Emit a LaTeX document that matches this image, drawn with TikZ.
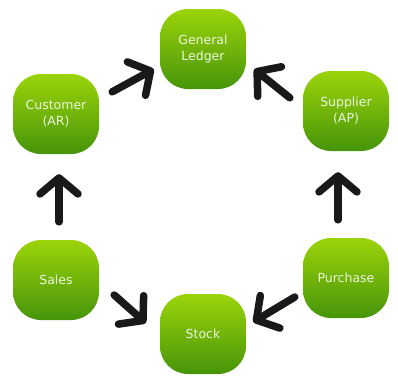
\documentclass[tikz,border=0pt]{standalone}
\usepackage{fontspec}
\setmainfont{DejaVu Sans}
\usetikzlibrary{arrows.meta}
\definecolor{boxtop}{RGB}{156,212,10}
\definecolor{boxbot}{RGB}{70,148,10}
\definecolor{boxtext}{RGB}{236,246,220}
\begin{document}
\begin{tikzpicture}[x=1pt,y=-1pt,
  box/.style={rectangle,rounded corners=28pt,minimum width=86pt,minimum height=80pt,
    top color=boxtop,bottom color=boxbot,draw=none,text=boxtext,align=center,
    font=\fontsize{12.5}{16}\selectfont},
  arr/.style={line width=7.5pt,line cap=round,black!90,
    -{Straight Barb[length=16pt,width=38pt,line width=7.5pt,round]}}]
\useasboundingbox (0,0) rectangle (398,380);
\node [box] (gl) at (203,49) {General\\Ledger};
\node [box] (cust) at (56,114) {Customer\\(AR)};
\node [box] (sup) at (346,111) {Supplier\\(AP)};
\node [box] (sales) at (56,280) {Sales};
\node [box] (pur) at (346,278) {Purchase};
\node [box] (stock) at (203,334) {Stock};
\draw [arr] ([shift={(13,18)}]cust.north east) -- ([shift={(-6,-20)}]gl.south west);
\draw [arr] ([shift={(-13,27)}]sup.north west) -- ([shift={(8,-20)}]gl.south east);
\draw [arr] ([shift={(3,-18)}]sales.north) -- ([shift={(3,20)}]cust.south);
\draw [arr] ([shift={(-8,-18)}]pur.north) -- ([shift={(-8,21)}]sup.south);
\draw [arr] ([shift={(15,15)}]sales.east) -- ([shift={(-14,-11)}]stock.west);
\draw [arr] ([shift={(-8,19)}]pur.west) -- ([shift={(7,-12)}]stock.east);
\end{tikzpicture}
\end{document}
